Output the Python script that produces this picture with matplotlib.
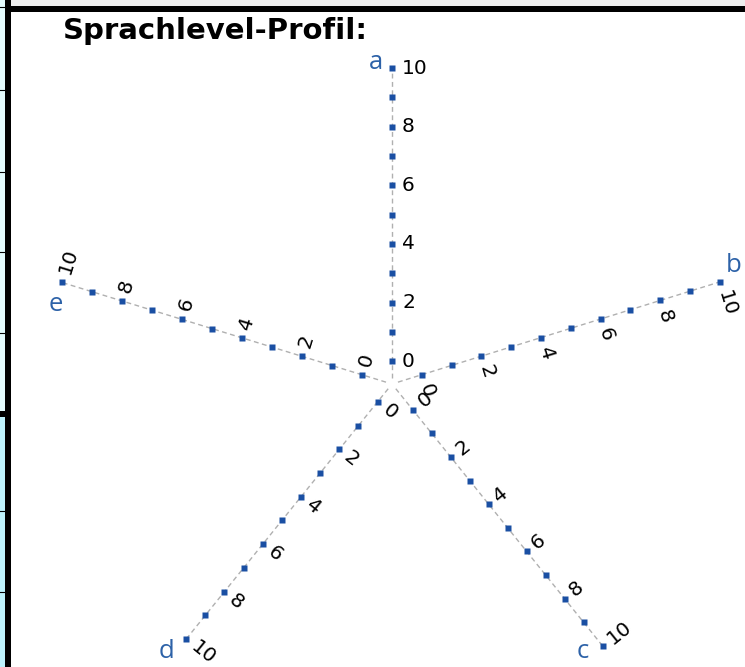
import numpy as np
import matplotlib.pyplot as plt
from matplotlib.patches import Rectangle

title = 'Sprachlevel-Profil:'
axis_names = ['a', 'b', 'c', 'd', 'e']
levels = list(range(0, 11))
labelled = [0, 2, 4, 6, 8, 10]

# star geometry, in pixels of the 745x667 picture
centre = (392, 384)
angles = [90, 17.3, -51.2, -128.9, 162.9]
unit = [29.3, 31.2, 30.3, 30.5, 31.4]
shift = [0.78, 1.0, 1.09, 0.75, 1.0]
gap = [10, 10, 9, 9, 9]
name_off = [(-16, 1), (14, -10), (-20, 12), (-20, 19), (-6, 29)]

blue = '#1a4fa3'
name_blue = '#2d62a8'

fig = plt.figure(figsize=(7.45, 6.67), dpi=100)
ax = fig.add_axes([0, 0, 1, 1])
ax.set_xlim(0, 745)
ax.set_ylim(667, 0)
ax.axis('off')

# page frame bits left/top of the chart
ax.add_patch(Rectangle((0, 0), 5, 411, color='#e3fbfd', lw=0))
ax.add_patch(Rectangle((0, 417), 5, 250, color='#bdf2fc', lw=0))
for y in [7, 90, 172, 252, 333, 511, 592]:
    ax.plot([0, 5], [y, y], color='black', lw=0.8)
ax.add_patch(Rectangle((0, 411), 5, 6, color='black', lw=0))
ax.add_patch(Rectangle((5, 0), 6, 667, color='black', lw=0))
ax.add_patch(Rectangle((11, 0), 734, 6, color='#eeeeee', lw=0))
ax.add_patch(Rectangle((11, 6), 734, 6, color='black', lw=0))

ax.text(63, 39, title, fontsize=21, fontweight='bold', family='DejaVu Sans',
        ha='left', va='baseline', color='black')

for i, name in enumerate(axis_names):
    th = np.radians(angles[i])
    dx, dy = np.cos(th), -np.sin(th)

    def pos(v):
        r = (np.asarray(v, dtype=float) + shift[i]) * unit[i]
        return centre[0] + r * dx, centre[1] + r * dy

    lx, ly = pos([-shift[i] + 0.2, levels[-1]])
    line, = ax.plot(lx, ly, color='#b0b0b0', lw=1.0, zorder=2)
    line.set_dashes((3.5, 2.5))

    px, py = pos(levels)
    ax.plot(px, py, 's', color=blue, ms=3.9, mec='none', zorder=3)

    rot = angles[i] - 90
    while rot <= -90:
        rot += 180
    rx, ry = np.cos(np.radians(rot)), -np.sin(np.radians(rot))
    for v in labelled:
        x0, y0 = pos(v)
        ax.text(x0 + gap[i] * rx, y0 + gap[i] * ry, str(v), rotation=rot,
                rotation_mode='anchor', ha='left', va='center',
                fontsize=14.5, color='black', family='DejaVu Sans')

    ex, ey = pos(levels[-1])
    ax.text(ex + name_off[i][0], ey + name_off[i][1], name, ha='center',
            va='baseline', fontsize=18.5, color=name_blue,
            family=['Open Sans', 'DejaVu Sans'])

fig.savefig('out.png', dpi=100)
